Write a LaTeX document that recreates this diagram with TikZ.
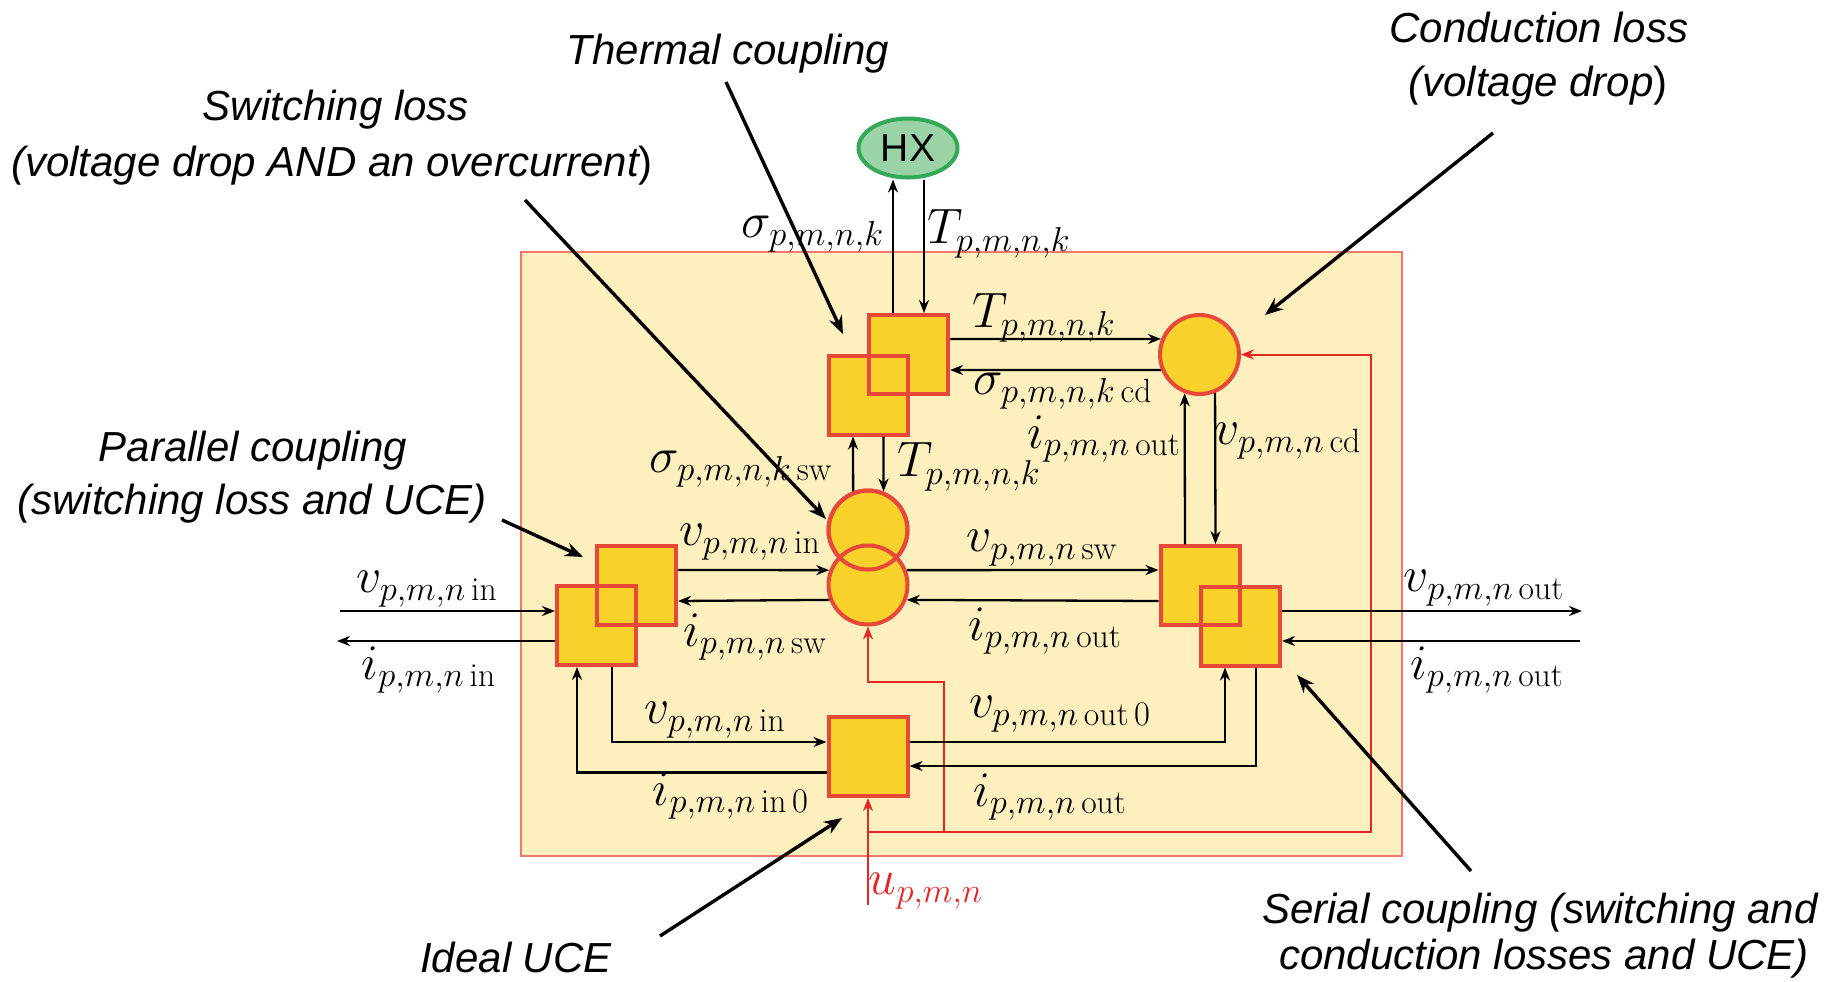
\documentclass[tikz,border=0pt]{standalone}
\usepackage{fontspec}
\newfontfamily\arialfont{Liberation Sans}
\usetikzlibrary{arrows.meta,calc,shapes.geometric}
\definecolor{boxfill}{RGB}{248,209,42}
\definecolor{boxred}{RGB}{232,72,58}
\definecolor{bgfill}{RGB}{253,240,190}
\definecolor{bgline}{RGB}{242,120,110}
\definecolor{hxfill}{RGB}{155,211,166}
\definecolor{hxline}{RGB}{50,168,88}
\definecolor{ctrl}{RGB}{228,38,38}
\begin{document}
\begin{tikzpicture}[x=0.5pt,y=-0.5pt,
  sq/.style={draw=boxred,fill=boxfill,line width=2pt,minimum size=39.5pt,inner sep=0pt},
  sqo/.style={draw=boxred,line width=2pt,minimum size=39.5pt,inner sep=0pt},
  cir/.style={circle,draw=boxred,fill=boxfill,line width=2pt,minimum size=39.5pt,inner sep=0pt},
  ciro/.style={circle,draw=boxred,line width=2pt,minimum size=39.5pt,inner sep=0pt},
  conn/.style={line width=1.15pt,-{Stealth[length=6.5pt,width=5pt]}},
  ctl/.style={ctrl,line width=1pt},
  ctla/.style={ctl,-{Stealth[length=6.5pt,width=5pt]}},
  ann/.style={line width=1.7pt,-{Stealth[length=9pt,width=7pt]}},
  lbl/.style={font=\fontsize{24}{28}\selectfont,inner sep=0pt},
  note/.style={font=\arialfont\itshape\fontsize{21}{25}\selectfont,inner sep=0pt},
]
\useasboundingbox (0,0) rectangle (1841,981);
\fill[white] (0,0) rectangle (1841,981);
% frame
\draw[bgline,fill=bgfill,line width=1pt] (521,252) rectangle (1402,856);

% blocks
\node[sq] (thA) at (908.5,354.5) {};
\node[sq] (thB) at (868,395) {};
\node[sqo] (thAo) at (thA) {};
\node[ellipse,draw=hxline,fill=hxfill,line width=2pt,minimum width=49.5pt,minimum height=29.5pt,inner sep=0pt,font=\arialfont\fontsize{19.5}{21}\selectfont] (HX) at (908,148) {HX};
\node[cir] (swT) at (868,530) {};
\node[cir] (swB) at (868,585) {};
\node[ciro] (swTo) at (swT) {};
\node[sq] (parB) at (636.5,585.5) {};
\node[sq] (parA) at (596.5,625.5) {};
\node[sqo] (parBo) at (parB) {};
\node[sq] (serB) at (1200,585.5) {};
\node[sq] (serA) at (1240.5,626) {};
\node[sqo] (serBo) at (serB) {};
\node[sq] (uce) at (868,756.5) {};
\node[cir] (cd) at (1199.5,354.5) {};

% control (red) lines
\coordinate (uin) at (868,905);
\coordinate (j1) at (868,832);
\coordinate (rc) at (1371,832);
\coordinate (j2) at (944,832);
\coordinate (j3) at (944,682);
\draw[ctla] (uin) -- (uce.south);
\draw[ctla] (j1) -- (rc) |- (cd.east);
\draw[ctla] (j2) -- (j3) -| (swB.south);

% black connectors
\coordinate (hxu) at ([shift={(-15.5,0)}]thA.north);
\coordinate (hxd) at ([shift={(15.5,0)}]thA.north);
\draw[conn] (hxu) -- (hxu |- HX.south);
\draw[conn] (hxd |- HX.south) -- (hxd);
\draw[conn] ([shift={(0,-15.5)}]thA.east) -- (cd.158);
\draw[conn] (cd.202) -- ([shift={(0,15.5)}]thA.east);
\draw[conn] (swT.111) -- ([shift={(-15,0)}]thB.south);
\draw[conn] ([shift={(15.5,0)}]thB.south) -- (swT.68);
\draw[conn] ([shift={(0,-15.5)}]parB.east) -- (swB.159);
\draw[conn] (swB.201) -- ([shift={(0,15.5)}]parB.east);
\draw[conn] (swB.21) -- ([shift={(0,-15.5)}]serB.west);
\draw[conn] ([shift={(0,15.5)}]serB.west) -- (swB.-21);
\draw[conn] ([shift={(-15,0)}]serB.north) -- (cd.249);
\draw[conn] (cd.-68) -- ([shift={(15.5,0)}]serB.north);
\coordinate (outR) at (1582,611);
\coordinate (inR) at (1580,641);
\coordinate (inL) at (340,611);
\coordinate (outL) at (337,641);
\draw[conn] ([shift={(0,-15)}]serA.east) -- (outR);
\draw[conn] (inR) -- ([shift={(0,15)}]serA.east);
\draw[conn] (inL) -- ([shift={(0,-14.5)}]parA.west);
\draw[conn] ([shift={(0,15.5)}]parA.west) -- (outL);
\draw[conn] ([shift={(15.5,0)}]parA.south) |- ([shift={(0,-14.5)}]uce.west);
\draw[conn] ([shift={(0,16)}]uce.west) -| ([shift={(-19.5,0)}]parA.south);
\draw[conn] ([shift={(0,-14.5)}]uce.east) -| ([shift={(-15.5,0)}]serA.south);
\draw[conn] ([shift={(15.5,0)}]serA.south) |- ([shift={(0,9.5)}]uce.east);

% labels
\node[lbl] (l1) at (813,234) {$\sigma_{p,m,n,k}$};
\node[lbl] (l2) at (999,234) {$T_{p,m,n,k}$};
\node[lbl] (l3) at (1044,318) {$T_{p,m,n,k}$};
\node[lbl] (l4) at (1063,391) {$\sigma_{p,m,n,k\,\mathrm{cd}}$};
\node[lbl] (l5) at (1104,439) {$i_{p,m,n\,\mathrm{out}}$};
\node[lbl] (l6) at (1288,441) {$v_{p,m,n\,\mathrm{cd}}$};
\node[lbl] (l7) at (741,469) {$\sigma_{p,m,n,k\,\mathrm{sw}}$};
\node[lbl] (l8) at (969,467) {$T_{p,m,n,k}$};
\node[lbl] (l9) at (750,542) {$v_{p,m,n\,\mathrm{in}}$};
\node[lbl] (l10) at (1042,548) {$v_{p,m,n\,\mathrm{sw}}$};
\node[lbl] (l11) at (755,637) {$i_{p,m,n\,\mathrm{sw}}$};
\node[lbl] (l12) at (1045,631) {$i_{p,m,n\,\mathrm{out}}$};
\node[lbl] (l13) at (427,589) {$v_{p,m,n\,\mathrm{in}}$};
\node[lbl] (l14) at (429,670) {$i_{p,m,n\,\mathrm{in}}$};
\node[lbl] (l15) at (1484,588) {$v_{p,m,n\,\mathrm{out}}$};
\node[lbl] (l16) at (1487,670) {$i_{p,m,n\,\mathrm{out}}$};
\node[lbl] (l17) at (715,720) {$v_{p,m,n\,\mathrm{in}}$};
\node[lbl] (l18) at (1060,714) {$v_{p,m,n\,\mathrm{out}\,0}$};
\node[lbl] (l19) at (731,796) {$i_{p,m,n\,\mathrm{in}\,0}$};
\node[lbl] (l20) at (1050,797) {$i_{p,m,n\,\mathrm{out}}$};
\node[lbl,text=ctrl] (l21) at (926,891) {$u_{p,m,n}$};

% annotations
\node[note] (n1) at (728,54) {Thermal coupling};
\node[note] (n2) at (336,110) {Switching loss};
\node[note] (n3) at (332,166) {(voltage drop AND an overcurrent{\upshape)}};
\node[note] (n4) at (1539,27) {Conduction loss};
\node[note] (n5) at (1538,86) {(voltage drop{\upshape)}};
\node[note] (n6) at (253,451) {Parallel coupling};
\node[note] (n7) at (252,504) {(switching loss and UCE)};
\node[note] (n8) at (516,957) {Ideal UCE};
\node[note] (n9) at (1540,913) {Serial coupling (switching and};
\node[note] (n10) at (1544,959) {conduction losses and UCE)};

\coordinate (a1s) at (726,82);   \coordinate (a1e) at (843,334);
\coordinate (a2s) at (525,200);  \coordinate (a2e) at (826,519);
\coordinate (a3s) at (1493,133); \coordinate (a3e) at (1265,315);
\coordinate (a4s) at (502,520);  \coordinate (a4e) at (583,557);
\coordinate (a5s) at (660,936);  \coordinate (a5e) at (842,818);
\coordinate (a6s) at (1471,871); \coordinate (a6e) at (1297,675);
\draw[ann] (a1s) -- (a1e);
\draw[ann] (a2s) -- (a2e);
\draw[ann] (a3s) -- (a3e);
\draw[ann] (a4s) -- (a4e);
\draw[ann] (a5s) -- (a5e);
\draw[ann] (a6s) -- (a6e);
\end{tikzpicture}
\end{document}
